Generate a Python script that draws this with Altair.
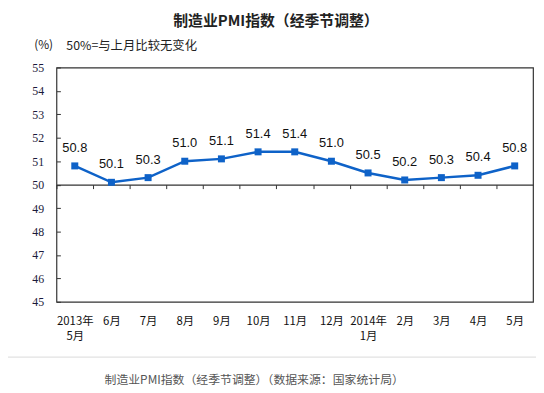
import altair as alt
import pandas as pd

months = ["2013年|5月", "6月", "7月", "8月", "9月", "10月", "11月", "12月",
          "2014年|1月", "2月", "3月", "4月", "5月"]
pmi = [50.8, 50.1, 50.3, 51.0, 51.1, 51.4, 51.4, 51.0, 50.5, 50.2, 50.3, 50.4, 50.8]
y_ticks = list(range(45, 56))

title_text = "制造业PMI指数（经季节调整）"
unit_text = "(%)"
note_text = "50%=与上月比较无变化"
caption_text = "制造业PMI指数（经季节调整）（数据来源：国家统计局）"

df = pd.DataFrame({"month": months, "pmi": pmi})

W, H = 482, 237
BLUE = "#0E62C8"
CJK = "Noto Sans CJK SC"

xscale = alt.Scale(type="point", padding=0.5)
yscale = alt.Scale(domain=[45, 55], nice=False, zero=False)

x_main = alt.X("month:N", sort=months, scale=xscale, title=None,
               axis=alt.Axis(labelExpr="split(datum.label, '|')", labelAngle=0,
                             labelFont=CJK, labelFontSize=11.5, labelColor="#111",
                             labelPadding=14, labelLineHeight=15,
                             ticks=False, tickSize=0, domain=False, grid=False))
y_main = alt.Y("pmi:Q", scale=yscale, title=None,
               axis=alt.Axis(values=y_ticks, labelFont="Liberation Serif",
                             labelFontSize=12, labelColor="#1a1a3a",
                             labelPadding=13, ticks=False, tickSize=0,
                             domain=False, grid=False))

base = alt.Chart(df)

line = base.mark_line(color=BLUE, strokeWidth=2.5).encode(x=x_main, y=y_main)

# axis at the 50 line with ticks between months, and inward y ticks
x_mid = alt.X("month:N", sort=months, scale=xscale, title=None,
              axis=alt.Axis(orient="bottom", offset=-H / 2, labels=False,
                            ticks=True, tickSize=4, tickOffset=-W / 26,
                            tickColor="#333", domain=True, domainColor="#333",
                            domainWidth=1.2, grid=False))
y_in = alt.Y("pmi:Q", scale=yscale, title=None,
             axis=alt.Axis(orient="right", offset=-W, values=y_ticks,
                           labels=False, ticks=True, tickSize=4,
                           tickColor="#333", domain=False, grid=False))

pts = base.mark_square(color=BLUE, size=50, opacity=1).encode(x=x_mid, y=y_in)

labels = base.mark_text(font="Liberation Sans", fontSize=13, color="#111",
                        dy=-18, baseline="middle").encode(
    x=alt.X("month:N", sort=months, scale=xscale, axis=None),
    y=alt.Y("pmi:Q", scale=yscale, axis=None),
    text=alt.Text("pmi:Q", format=".1f"))

one = pd.DataFrame({"a": [0]})
title = alt.Chart(one).mark_text(text=title_text, font=CJK, fontSize=15,
                                 fontWeight="bold", color="#222",
                                 baseline="middle").encode(
    x=alt.value(222), y=alt.value(-47))
unit = alt.Chart(one).mark_text(text=unit_text, font=CJK, fontSize=12,
                                color="#222", baseline="middle").encode(
    x=alt.value(-13), y=alt.value(-23))
note = alt.Chart(one).mark_text(text=note_text, font=CJK, fontSize=12.5,
                                color="#222", baseline="middle",
                                align="left").encode(
    x=alt.value(10), y=alt.value(-22))
sep = alt.Chart(one).mark_rule(color="#e2e2e2", strokeWidth=1.2).encode(
    x=alt.value(-57), x2=alt.value(487), y=alt.value(293))
caption = alt.Chart(one).mark_text(text=caption_text, font=CJK, fontSize=12,
                                   color="#555", baseline="middle").encode(
    x=alt.value(200), y=alt.value(316))

chart = alt.layer(line, pts, labels, title, unit, note, sep, caption).resolve_axis(
    x="independent", y="independent"
).properties(
    width=W, height=H,
    padding={"left": 49, "top": 58, "right": 3, "bottom": 86},
    autosize=alt.AutoSizeParams(type="none"),
).configure_view(stroke="#333", strokeWidth=1.2)

chart.save("out.html", embed_options={"renderer": "svg", "actions": False})
